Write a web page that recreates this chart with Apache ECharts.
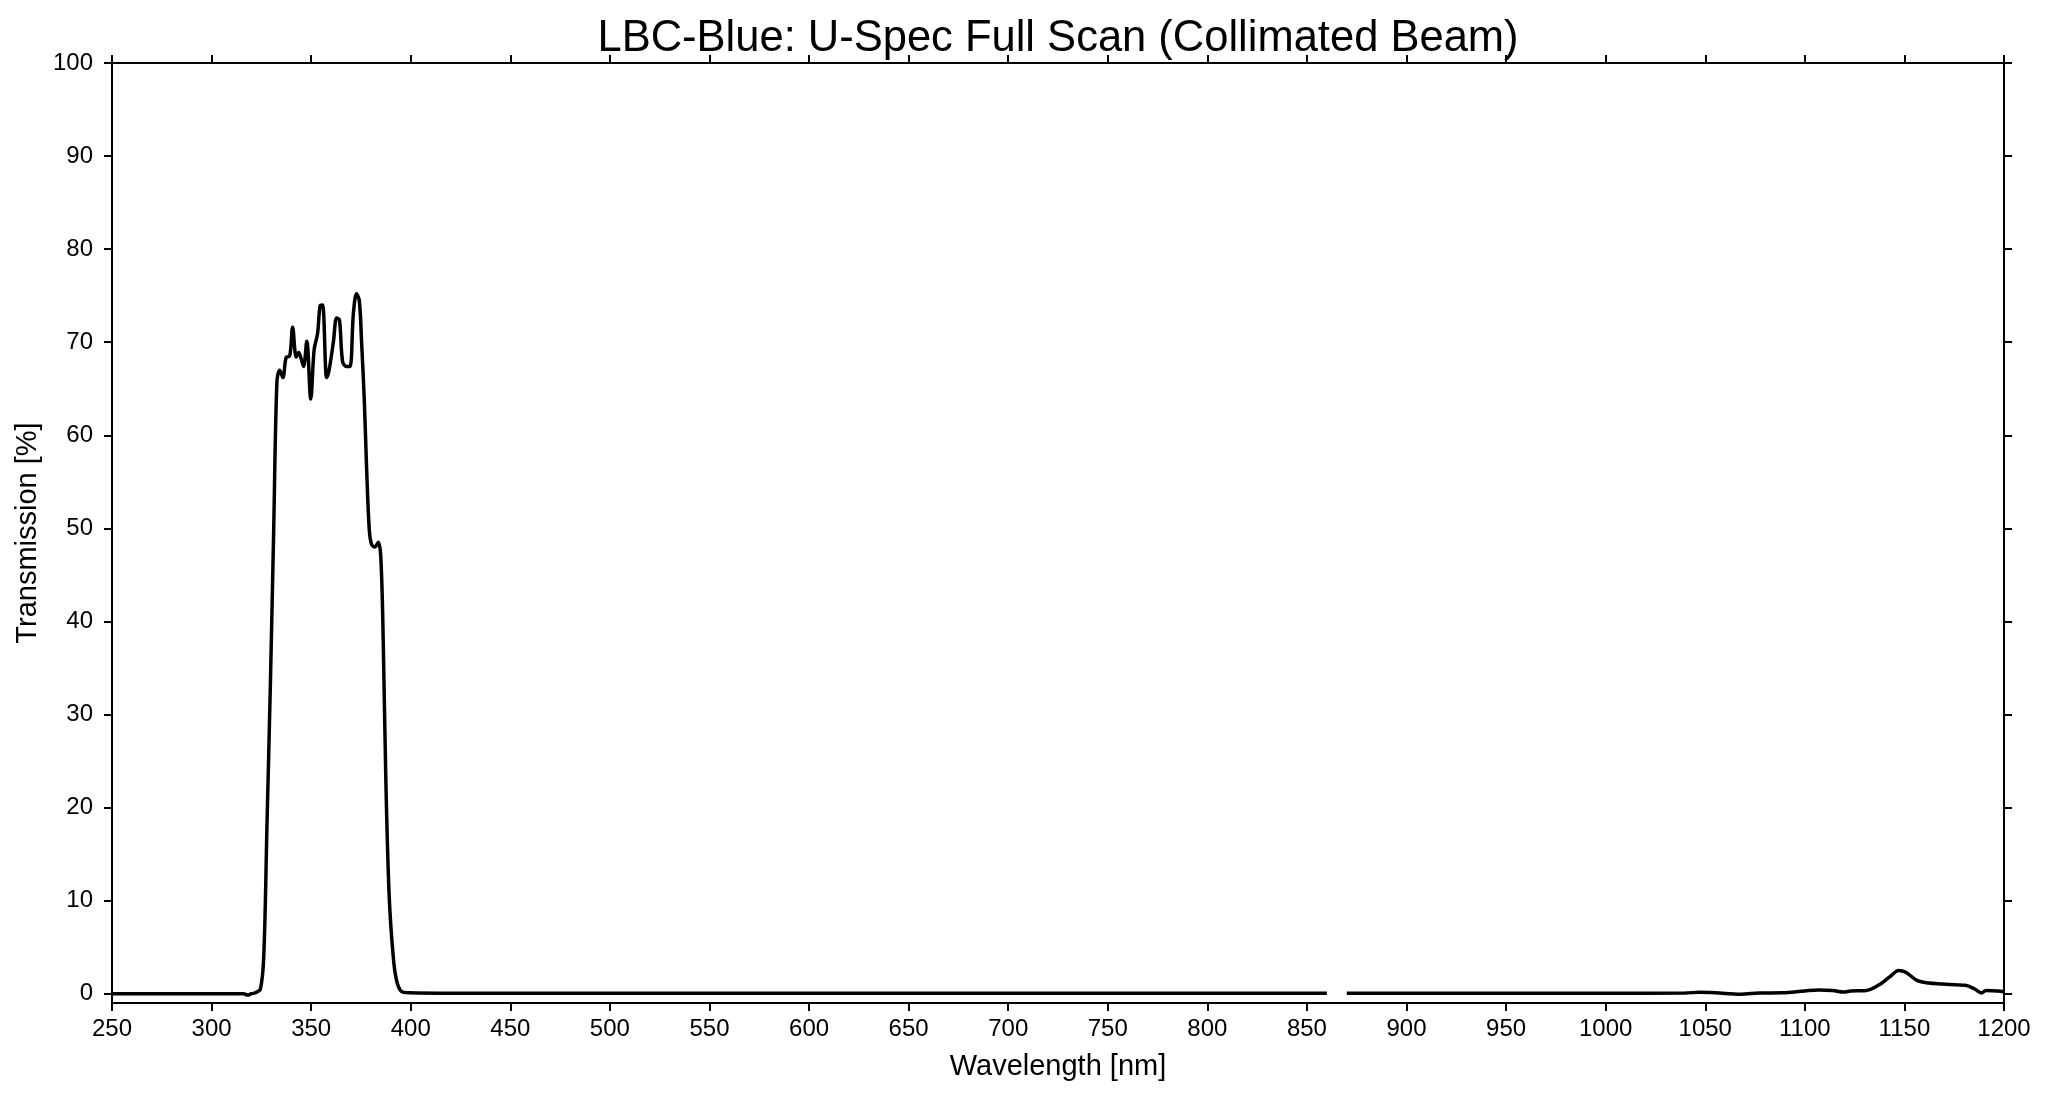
<!DOCTYPE html>
<html>
<head>
<meta charset="utf-8">
<script src="https://cdn.jsdelivr.net/npm/echarts@6/dist/echarts.min.js"></script>
<style>
html,body{margin:0;padding:0;background:#fff;}
#c{width:2048px;height:1098px;}
</style>
</head>
<body>
<div id="c"></div>
<script>
const titleText = 'LBC-Blue: U-Spec Full Scan (Collimated Beam)';
const xName = 'Wavelength [nm]';
const yName = 'Transmission [%]';
const yTicks = [0, 10, 20, 30, 40, 50, 60, 70, 80, 90, 100];

const wavelength = [
  250, 280, 310, 316, 318, 320, 322, 324.5, 326.2, 327.8, 329.5, 331.2, 332.8, 334.2, 335.8,
  337.5, 339.2, 340.7, 342.5, 343.7, 345, 346.2, 347.8, 349.8, 351.5, 353.2, 354.5, 355.7,
  357.8, 359, 361.2, 362.8, 364.2, 365.8, 367.8, 369.5, 371.2, 372.8, 374.2, 375.3, 376.7,
  377.8, 379.2, 380.3, 382, 383.7, 385, 386.2, 387.5, 389.2, 391.2, 392.8, 395.3, 399.5,
  420, 500, 600, 700, 800, 860, 865, 870, 900, 950, 1000, 1040, 1047, 1055, 1067.7, 1077,
  1088.5, 1100, 1106.9, 1113.8, 1119.6, 1123, 1130, 1136.9, 1142.6, 1147.2, 1150.7, 1156.5,
  1162.2, 1169.1, 1176, 1180.6, 1185.3, 1188.7, 1191, 1196.8, 1200
];
const transmission = [
  0.0, 0.0, 0.0, 0.0, -0.15, 0.0, 0.1, 0.5, 4, 18, 33, 50, 65.7, 67, 66.2,
  68.4, 68.5, 71.6, 68.4, 68.9, 68.2, 67.4, 70.1, 63.9, 69.2, 70.9, 73.9, 74.0,
  66.2, 67, 70.1, 72.6, 72.4, 67.9, 67.4, 67.4, 73.1, 75.2, 74.4, 70.1, 63.7,
  56.7, 49.8, 48.3, 48, 48.5, 46.8, 37.8, 22.9, 10.4, 4, 1.5, 0.25, 0.1,
  0.05, 0.05, 0.05, 0.05, 0.05, 0.05, null, 0.05, 0.05, 0.05, 0.05, 0.08, 0.15, 0.1, -0.05, 0.07,
  0.1, 0.3, 0.4, 0.35, 0.18, 0.3, 0.32, 0.9, 1.8, 2.5, 2.3, 1.4,
  1.15, 1.05, 0.95, 0.9, 0.5, 0.07, 0.35, 0.3, 0.2
];

const seriesData = wavelength.map((w, i) => [w, transmission[i] === null ? '-' : transmission[i]]);

const FONT = '"Liberation Sans", Arial, Helvetica, sans-serif';
const chart = echarts.init(document.getElementById('c'));
const grid = { left: 112, right: 44, top: 63, bottom: 95 };
const plotCenterX = grid.left + (2048 - grid.left - grid.right) / 2;

const axisLineStyle = { color: '#000', width: 2 };
const tickStyle = { show: true, inside: false, length: 8, lineStyle: { color: '#000', width: 2 } };

chart.setOption({
  backgroundColor: '#fff',
  animation: false,
  graphic: [{
    type: 'text',
    x: plotCenterX,
    y: 17,
    style: {
      text: titleText,
      font: '43.5px ' + FONT,
      fill: '#000',
      textAlign: 'center',
      textVerticalAlign: 'top'
    }
  }],
  grid: grid,
  xAxis: [{
    type: 'value',
    min: 250,
    max: 1200,
    interval: 50,
    position: 'bottom',
    name: xName,
    nameLocation: 'middle',
    nameGap: 49,
    nameTextStyle: { fontFamily: FONT, fontSize: 29, color: '#000' },
    axisLine: { show: true, onZero: false, lineStyle: axisLineStyle },
    axisTick: tickStyle,
    splitLine: { show: false },
    axisLabel: { fontFamily: FONT, fontSize: 24, color: '#000', margin: 14, formatter: v => String(v) }
  }, {
    type: 'value',
    min: 250,
    max: 1200,
    interval: 50,
    position: 'top',
    axisLine: { show: true, onZero: false, lineStyle: axisLineStyle },
    axisTick: tickStyle,
    splitLine: { show: false },
    axisLabel: { show: false }
  }],
  yAxis: [{
    type: 'value',
    min: -1,
    max: 100,
    position: 'left',
    name: yName,
    nameLocation: 'middle',
    nameGap: 68,
    nameTextStyle: { fontFamily: FONT, fontSize: 29, color: '#000' },
    axisLine: { show: true, onZero: false, lineStyle: axisLineStyle },
    axisTick: Object.assign({}, tickStyle, { customValues: yTicks }),
    splitLine: { show: false },
    axisLabel: { fontFamily: FONT, fontSize: 24, color: '#000', margin: 19, customValues: yTicks }
  }, {
    type: 'value',
    min: -1,
    max: 100,
    position: 'right',
    axisLine: { show: true, onZero: false, lineStyle: axisLineStyle },
    axisTick: Object.assign({}, tickStyle, { customValues: yTicks }),
    splitLine: { show: false },
    axisLabel: { show: false, customValues: yTicks }
  }],
  series: [{
    type: 'line',
    xAxisIndex: 0,
    yAxisIndex: 0,
    data: seriesData,
    showSymbol: false,
    connectNulls: false,
    smooth: 0.35,
    lineStyle: { color: '#000', width: 3.5 },
    itemStyle: { color: '#000' }
  }]
});
</script>
</body>
</html>
